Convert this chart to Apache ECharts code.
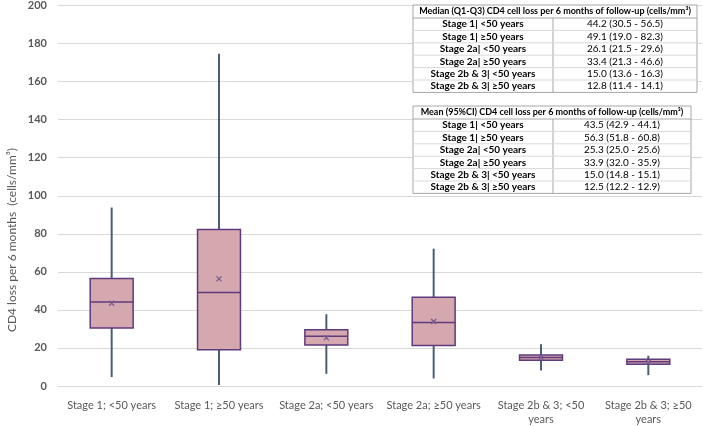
<!DOCTYPE html>
<html><head><meta charset="utf-8">
<script src="https://cdn.jsdelivr.net/npm/echarts@6/dist/echarts.min.js"></script>
<style>html,body{margin:0;padding:0;background:#fff}#c{width:703px;height:426px}</style>
</head><body><div id="c"></div>
<script>
const categories = ['Stage 1; <50 years','Stage 1; ≥50 years','Stage 2a; <50 years','Stage 2a; ≥50 years','Stage 2b & 3; <50 years','Stage 2b & 3; ≥50 years'];
const whiskerLow  = [4.7, 0.5, 6.4, 4.0, 8.1, 5.7];
const q1          = [30.5, 19.0, 21.5, 21.3, 13.6, 11.4];
const median      = [44.2, 49.1, 26.1, 33.4, 15.0, 12.8];
const q3          = [56.5, 82.3, 29.6, 46.6, 16.3, 14.1];
const whiskerHigh = [93.8, 174.6, 37.7, 72.2, 21.9, 15.9];
const mean        = [43.5, 56.3, 25.3, 33.9, 15.0, 12.5];
const ciLow       = [42.9, 51.8, 25.0, 32.0, 14.8, 12.2];
const ciHigh      = [44.1, 60.8, 25.6, 35.9, 15.1, 12.9];
const tableLabels = ['Stage 1| <50 years','Stage 1| ≥50 years','Stage 2a| <50 years','Stage 2a| ≥50 years','Stage 2b & 3| <50 years','Stage 2b & 3| ≥50 years'];
const medianTitle = 'Median (Q1-Q3) CD4 cell loss per 6 months of follow-up (cells/mm³)';
const meanTitle = 'Mean (95%CI) CD4 cell loss per 6 months of follow-up (cells/mm³)';
const yTitle = 'CD4 loss per 6 months  (cells/mm³)';

const FONT = 'Lato, "Noto Sans", sans-serif';
const fmt = v => v.toFixed(1);
const medianRows = tableLabels.map((l,i)=>[l, fmt(median[i])+' ('+fmt(q1[i])+' - '+fmt(q3[i])+')']);
const meanRows = tableLabels.map((l,i)=>[l, fmt(mean[i])+' ('+fmt(ciLow[i])+' - '+fmt(ciHigh[i])+')']);

function buildTable(title, rows, x, top, w, divX, headH, rowH) {
  const els = [];
  const h = headH + rowH*rows.length;
  els.push({type:'rect', shape:{x:x, y:top, width:w, height:h}, style:{fill:'#fff', stroke:'#a6a6a6', lineWidth:1}, z:10});
  els.push({type:'text', x:x+w/2, y:top+headH/2, style:{text:title, fill:'#000', font:'bold 9px '+FONT, align:'center', verticalAlign:'middle'}, z:11});
  els.push({type:'line', shape:{x1:x, y1:top+headH, x2:x+w, y2:top+headH}, style:{stroke:'#a6a6a6', lineWidth:1}, z:11});
  els.push({type:'line', shape:{x1:divX, y1:top+headH, x2:divX, y2:top+h}, style:{stroke:'#a6a6a6', lineWidth:1}, z:11});
  rows.forEach((r,i)=>{
    const cy = top+headH+rowH*(i+0.5);
    if (i>0) els.push({type:'line', shape:{x1:x, y1:top+headH+rowH*i, x2:x+w, y2:top+headH+rowH*i}, style:{stroke:'#d9d9d9', lineWidth:1}, z:11});
    els.push({type:'text', x:(x+divX)/2, y:cy, style:{text:r[0], fill:'#000', font:'bold 10px '+FONT, align:'center', verticalAlign:'middle'}, z:11});
    els.push({type:'text', x:(divX+x+w)/2, y:cy, style:{text:r[1], fill:'#000', font:'10px '+FONT, align:'center', verticalAlign:'middle'}, z:11});
  });
  return els;
}

const chart = echarts.init(document.getElementById('c'));
function renderItem(params, api) {
  const i = api.value(0);
  const pLo = api.coord([i, api.value(1)]);
  const pQ1 = api.coord([i, api.value(2)]);
  const pMed = api.coord([i, api.value(3)]);
  const pQ3 = api.coord([i, api.value(4)]);
  const pHi = api.coord([i, api.value(5)]);
  const pMean = api.coord([i, api.value(6)]);
  const bw = api.size([1,0])[0]*0.4;
  const cx = pMed[0];
  const m = 2.5;
  return {type:'group', children:[
    {type:'line', shape:{x1:cx, y1:pHi[1], x2:cx, y2:pLo[1]}, style:{stroke:'#4a5e74', lineWidth:2}},
    {type:'rect', shape:{x:cx-bw/2, y:pQ3[1], width:bw, height:pQ1[1]-pQ3[1]}, style:{fill:'#d5a7ae', stroke:'#5f3b7c', lineWidth:1.5}},
    {type:'line', shape:{x1:cx-bw/2, y1:pMed[1], x2:cx+bw/2, y2:pMed[1]}, style:{stroke:'#5f3b7c', lineWidth:1.5}},
    {type:'line', shape:{x1:cx-m, y1:pMean[1]-m, x2:cx+m, y2:pMean[1]+m}, style:{stroke:'#7a5a8e', lineWidth:1.3}},
    {type:'line', shape:{x1:cx-m, y1:pMean[1]+m, x2:cx+m, y2:pMean[1]-m}, style:{stroke:'#7a5a8e', lineWidth:1.3}}
  ]};
}

const option = {
  animation:false,
  grid:{left:58, right:1, top:5, bottom:35},
  xAxis:{type:'category', data:categories,
    axisLine:{lineStyle:{color:'#d9d9d9'}}, axisTick:{show:false},
    axisLabel:{color:'#595959', fontSize:11, fontFamily:FONT, margin:12, lineHeight:14, interval:0,
      formatter: v => v.startsWith('Stage 2b') ? v.replace(/ years$/, '\nyears') : v}},
  yAxis:{type:'value', min:0, max:200, interval:20,
    axisLine:{show:false}, axisTick:{show:false},
    splitLine:{lineStyle:{color:'#d9d9d9', width:1}},
    axisLabel:{color:'#595959', fontSize:11, fontWeight:'bold', fontFamily:FONT, margin:11}},
  series:[{type:'custom', renderItem:renderItem,
    encode:{x:0, y:[1,5]},
    data: categories.map((c,i)=>[i, whiskerLow[i], q1[i], median[i], q3[i], whiskerHigh[i], mean[i]])}],
  graphic:[
    {type:'text', x:12, y:240, rotation:Math.PI/2, style:{text:yTitle, fill:'#595959', font:'12px '+FONT, align:'center', verticalAlign:'middle'}},
    ...buildTable(medianTitle, medianRows, 413, 5, 284, 553, 13, 12.4),
    ...buildTable(meanTitle, meanRows, 413, 106, 278, 553, 13, 12.4)
  ]
};
chart.setOption(option);
</script></body></html>
